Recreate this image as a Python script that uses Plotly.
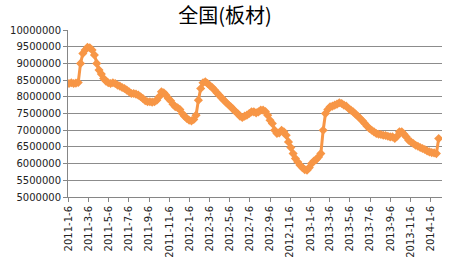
import pandas as pd
import plotly.graph_objects as go

TITLE = "全国(板材)"
START_DATE = "2011-01-06"
VALUES = [
    8400000, 8420000, 8400000, 8410000, 8430000, 9000000, 9300000, 9400000, 9480000, 9470000,
    9400000, 9250000, 9000000, 8800000, 8680000, 8550000, 8470000, 8420000, 8400000, 8420000,
    8400000, 8350000, 8320000, 8280000, 8250000, 8200000, 8150000, 8100000, 8100000, 8080000,
    8050000, 8000000, 7950000, 7880000, 7850000, 7850000, 7840000, 7850000, 7900000, 8000000,
    8150000, 8120000, 8050000, 7950000, 7880000, 7780000, 7700000, 7670000, 7620000, 7500000,
    7420000, 7350000, 7300000, 7280000, 7320000, 7450000, 7900000, 8250000, 8420000, 8450000,
    8400000, 8330000, 8280000, 8200000, 8120000, 8050000, 7970000, 7900000, 7830000, 7760000,
    7700000, 7630000, 7560000, 7500000, 7420000, 7380000, 7420000, 7450000, 7500000, 7550000,
    7550000, 7520000, 7550000, 7600000, 7600000, 7560000, 7450000, 7300000, 7200000, 7000000,
    6900000, 6920000, 7000000, 6950000, 6850000, 6650000, 6480000, 6300000, 6150000, 6050000,
    5950000, 5880000, 5820000, 5800000, 5880000, 6000000, 6080000, 6120000, 6200000, 6300000,
    7000000, 7500000, 7620000, 7700000, 7720000, 7750000, 7780000, 7820000, 7800000, 7750000,
    7720000, 7650000, 7600000, 7550000, 7480000, 7420000, 7350000, 7280000, 7200000, 7120000,
    7050000, 7000000, 6950000, 6900000, 6880000, 6870000, 6850000, 6840000, 6820000, 6800000,
    6800000, 6750000, 6820000, 6950000, 6950000, 6880000, 6800000, 6700000, 6650000, 6600000,
    6550000, 6520000, 6480000, 6450000, 6420000, 6380000, 6350000, 6330000, 6320000, 6300000,
    6750000,
]
TICK_LABELS = [
    "2011-1-6", "2011-3-6", "2011-5-6", "2011-7-6", "2011-9-6", "2011-11-6",
    "2012-1-6", "2012-3-6", "2012-5-6", "2012-7-6", "2012-9-6", "2012-11-6",
    "2013-1-6", "2013-3-6", "2013-5-6", "2013-7-6", "2013-9-6", "2013-11-6",
    "2014-1-6",
]
Y_TICKS = [5000000, 5500000, 6000000, 6500000, 7000000, 7500000,
           8000000, 8500000, 9000000, 9500000, 10000000]

dates = pd.date_range(START_DATE, periods=len(VALUES), freq="7D")
tickvals = [pd.Timestamp(s) for s in TICK_LABELS]

fig = go.Figure()
fig.add_trace(go.Scatter(
    x=dates, y=VALUES, mode="lines+markers",
    line=dict(color="#F79646", width=3),
    marker=dict(symbol="diamond", size=7, color="#F79646"),
    showlegend=False,
))

fig.update_layout(
    width=450, height=274,
    margin=dict(l=68, r=8, t=30, b=77),
    paper_bgcolor="white", plot_bgcolor="white",
    title=dict(text=TITLE, x=0.5, xanchor="center", y=0.94, yanchor="middle",
               font=dict(family="Noto Sans CJK SC", size=20, color="black")),
    font=dict(family="DejaVu Sans", size=10, color="#222222"),
)
fig.update_xaxes(
    type="date", range=["2011-01-03", "2014-02-09"],
    tickvals=tickvals, ticktext=TICK_LABELS, tickangle=-90,
    showgrid=False, showline=True, linecolor="#868686", linewidth=1,
    ticks="outside", ticklen=4, tickcolor="#868686",
    tickfont=dict(family="DejaVu Sans", size=10, color="#222222"),
    zeroline=False,
)
fig.update_yaxes(
    range=[5000000, 10000000], tickvals=Y_TICKS,
    ticktext=[str(v) for v in Y_TICKS],
    showgrid=True, gridcolor="#8c8c8c", gridwidth=1,
    showline=True, linecolor="#868686", linewidth=1,
    ticks="outside", ticklen=4, tickcolor="#868686",
    tickfont=dict(family="DejaVu Sans", size=10, color="#222222"),
    zeroline=False,
)

fig.write_html("out.html")
